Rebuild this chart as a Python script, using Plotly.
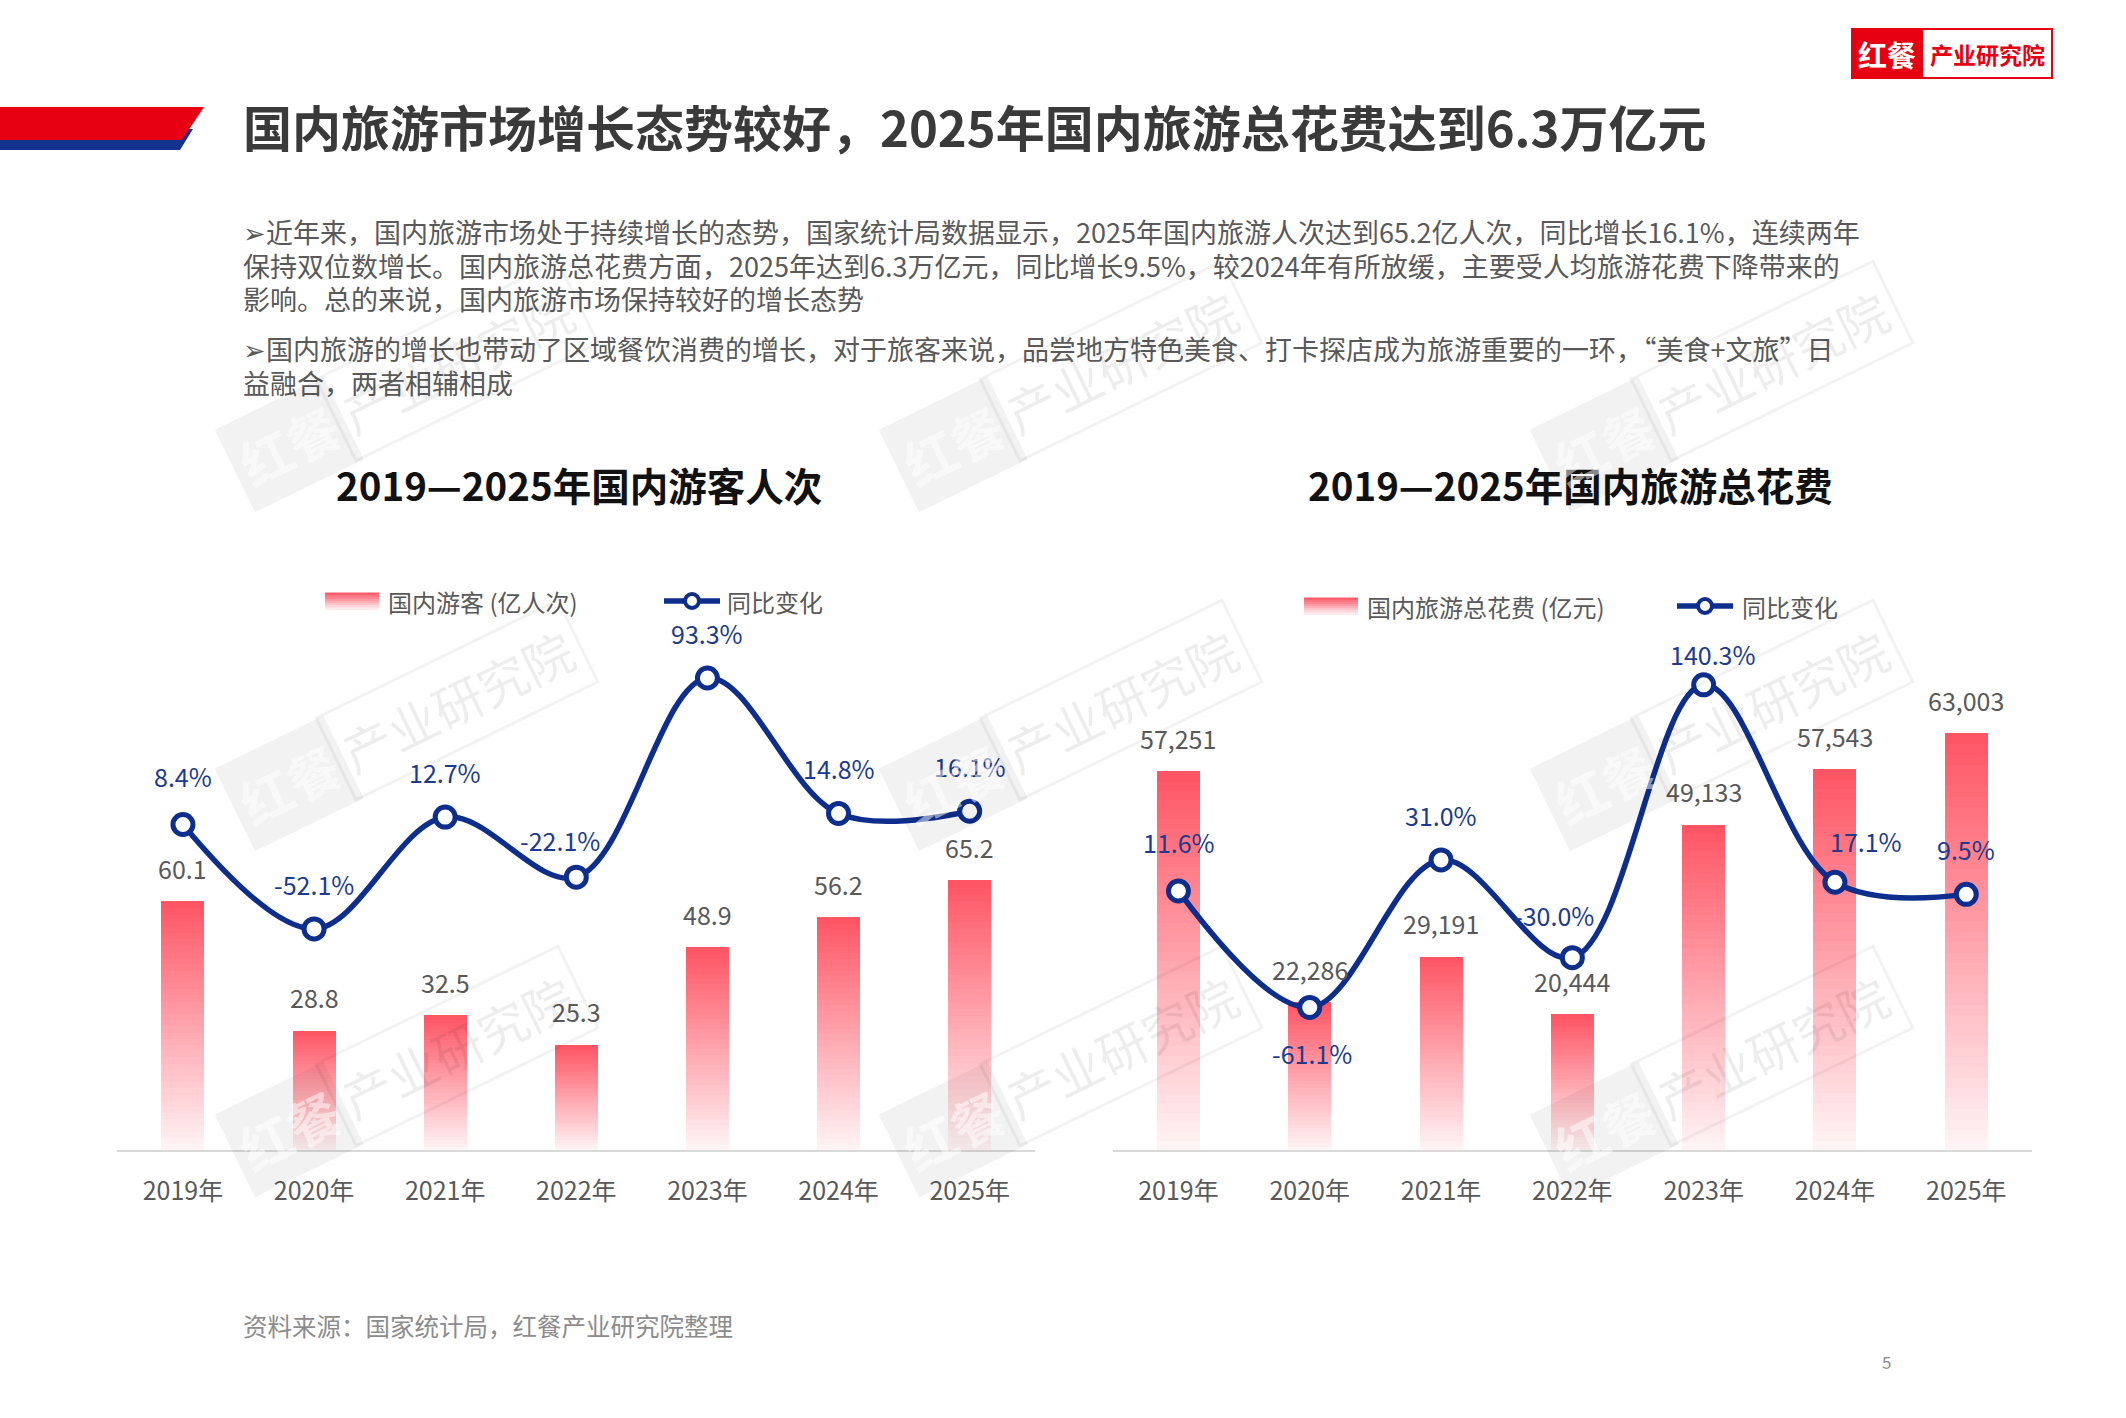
import plotly.graph_objects as go

W, H = 2126, 1418

# ---- data ----
years = ["2019年", "2020年", "2021年", "2022年", "2023年", "2024年", "2025年"]
visitors = [60.1, 28.8, 32.5, 25.3, 48.9, 56.2, 65.2]          # 亿人次
visitors_yoy = [8.4, -52.1, 12.7, -22.1, 93.3, 14.8, 16.1]      # %
spending = [57251, 22286, 29191, 20444, 49133, 57543, 63003]    # 亿元
spending_yoy = [11.6, -61.1, 31.0, -30.0, 140.3, 17.1, 9.5]     # %

title = "国内旅游市场增长态势较好，2025年国内旅游总花费达到6.3万亿元"
para_lines = [
    "➢近年来，国内旅游市场处于持续增长的态势，国家统计局数据显示，2025年国内旅游人次达到65.2亿人次，同比增长16.1%，连续两年",
    "保持双位数增长。国内旅游总花费方面，2025年达到6.3万亿元，同比增长9.5%，较2024年有所放缓，主要受人均旅游花费下降带来的",
    "影响。总的来说，国内旅游市场保持较好的增长态势",
    "➢国内旅游的增长也带动了区域餐饮消费的增长，对于旅客来说，品尝地方特色美食、打卡探店成为旅游重要的一环，“美食+文旅”日",
    "益融合，两者相辅相成",
]
para_y = [232, 265, 298, 349, 382]
source = "资料来源：国家统计局，红餐产业研究院整理"

# ---- style ----
FONT = "Noto Sans CJK SC"
NAVY = "#0d2e8c"
LABEL_NAVY = "#1c3a8e"
GREY = "#595959"
BAR_TOP = (255, 84, 99)
BAR_BOTTOM = (255, 245, 247)
STEPS = 40


def px(x):
    return x / W


def py(y):
    return 1 - y / H


def mix(t):
    c = [round(b + (a - b) * t) for a, b in zip(BAR_TOP, BAR_BOTTOM)]
    return "rgb(%d,%d,%d)" % tuple(c)


def note(x, y, text, size, color, anchor="center", **kw):
    # paper-positioned text, x/y given in page pixels
    d = dict(x=px(x), y=py(y), xref="paper", yref="paper", text=text, showarrow=False,
             xanchor=anchor, yanchor="middle", font=dict(size=size, color=color))
    d.update(kw)
    return d


fig = go.Figure()

panels = [
    dict(xa="x", ya="y", ya2="y2", bars=visitors, yoy=visitors_yoy,
         bar_fmt="{:.1f}", name="国内游客 (亿人次)",
         chart_title="2019—2025年国内游客人次", title_x=579,
         nudges={0: (0, 49), 3: (-16, 37)},
         legend=(325, 386, 664, 725, 601)),
    dict(xa="x2", ya="y3", ya2="y4", bars=spending, yoy=spending_yoy,
         bar_fmt="{:,}", name="国内旅游总花费 (亿元)",
         chart_title="2019—2025年国内旅游总花费", title_x=1570,
         nudges={0: (1, 49), 1: (2, -46), 3: (-18, 43), 4: (9, 31), 5: (31, 41)},
         legend=(1304, 1365, 1677, 1740, 606)),
]

annotations = []
shapes = []

for p in panels:
    # gradient bars: each bar stacked from thin slices, light at bottom, red at top
    for k in range(STEPS):
        c = mix((k + 0.5) / STEPS)
        fig.add_trace(go.Bar(
            x=years, y=[v / STEPS for v in p["bars"]],
            xaxis=p["xa"], yaxis=p["ya"], width=0.32,
            marker=dict(color=c, line=dict(color=c, width=1)),
            showlegend=False, hoverinfo="skip"))
    fig.add_trace(go.Scatter(
        x=years, y=p["yoy"], xaxis=p["xa"], yaxis=p["ya2"],
        mode="lines+markers", cliponaxis=False, showlegend=False,
        line=dict(color=NAVY, width=5.5, shape="spline", smoothing=1),
        marker=dict(size=20, color="white", line=dict(color=NAVY, width=5)),
        hovertemplate="%{x}: %{y}%<extra></extra>"))

    for yr, v in zip(years, p["bars"]):
        annotations.append(dict(
            x=yr, y=v, xref=p["xa"], yref=p["ya"], text=p["bar_fmt"].format(v),
            showarrow=False, yshift=34, font=dict(size=25, color=GREY)))
    for i, (yr, v) in enumerate(zip(years, p["yoy"])):
        dx, dy = p["nudges"].get(i, (0, 45))
        annotations.append(dict(
            x=yr, y=v, xref=p["xa"], yref=p["ya2"], text="%.1f%%" % v,
            showarrow=False, xshift=dx, yshift=dy,
            font=dict(size=25, color=LABEL_NAVY)))

    annotations.append(note(p["title_x"], 484, "<b>%s</b>" % p["chart_title"], 38.5, "#111111"))

    # legend drawn by hand: gradient swatch + line-with-circle
    sx, tx, lx, ltx, ly = p["legend"]
    sw_h, bands = 17, 8
    for b in range(bands):
        y0 = ly - sw_h / 2 + b * sw_h / bands
        shapes.append(dict(type="rect", xref="paper", yref="paper",
                           x0=px(sx), x1=px(sx + 54), y0=py(y0), y1=py(y0 + sw_h / bands + 0.5),
                           fillcolor=mix(1 - (b + 0.5) / bands), line=dict(width=0)))
    annotations.append(note(tx, ly, p["name"], 24, GREY, anchor="left"))
    shapes.append(dict(type="line", xref="paper", yref="paper", x0=px(lx), x1=px(lx + 56),
                       y0=py(ly), y1=py(ly), line=dict(color=NAVY, width=5.5)))
    shapes.append(dict(type="circle", xref="paper", yref="paper",
                       x0=px(lx + 28 - 7), x1=px(lx + 28 + 7), y0=py(ly - 7), y1=py(ly + 7),
                       fillcolor="white", line=dict(color=NAVY, width=4)))
    annotations.append(note(ltx, ly, "同比变化", 24, GREY, anchor="left"))

# header band
shapes.append(dict(type="path", xref="paper", yref="paper", line=dict(width=0), fillcolor="#13338f",
                   path="M %f %f L %f %f L %f %f L %f %f Z" % (
                       px(0), py(129), px(193), py(129), px(180), py(150), px(0), py(150))))
shapes.append(dict(type="path", xref="paper", yref="paper", line=dict(width=0), fillcolor="#e60012",
                   path="M %f %f L %f %f L %f %f L %f %f Z" % (
                       px(0), py(107), px(204), py(107), px(182), py(140), px(0), py(140))))
annotations.append(note(241, 126, "<b>%s</b>" % title, 49, "#3a3a3a", anchor="left"))

# logo
shapes.append(dict(type="rect", xref="paper", yref="paper", x0=px(1852), x1=px(2052),
                   y0=py(29), y1=py(78), fillcolor="white", line=dict(color="#e60012", width=2)))
shapes.append(dict(type="rect", xref="paper", yref="paper", x0=px(1852), x1=px(1923),
                   y0=py(29), y1=py(78), fillcolor="#e60012", line=dict(width=0)))
annotations.append(note(1887, 54, "<b>红餐</b>", 29, "white"))
annotations.append(note(1987, 54, "<b>产业研究院</b>", 23, "#e60012"))

# paragraph
for line, yy in zip(para_lines, para_y):
    annotations.append(note(241, yy, line, 27, GREY, anchor="left"))

annotations.append(note(241, 1325, source, 24.5, "#8c8c8c", anchor="left"))
annotations.append(note(1886, 1361, "5", 17, "#8c8c8c"))

# watermarks
for cy in (386, 725, 1071):
    for cx in (407, 1071, 1722):
        annotations.append(note(cx, cy, "<b>红餐</b>", 52, "rgba(255,255,255,0.5)",
                                textangle=-26, xshift=-118, yshift=-58,
                                bgcolor="rgba(0,0,0,0.05)", borderpad=8))
        annotations.append(note(cx, cy, "产业研究院", 50, "rgba(0,0,0,0.07)",
                                textangle=-26, xshift=50, yshift=25,
                                bordercolor="rgba(0,0,0,0.05)", borderwidth=3, borderpad=8))

axis_common = dict(type="category", showline=True, linecolor="#d9d9d9", linewidth=2,
                   showgrid=False, zeroline=False, ticks="", ticklabelstandoff=18,
                   tickfont=dict(size=25, color=GREY), fixedrange=True)
hidden = dict(visible=False, showgrid=False, zeroline=False, fixedrange=True)

fig.update_layout(
    width=W, height=H,
    margin=dict(l=0, r=0, t=0, b=0),
    paper_bgcolor="white", plot_bgcolor="rgba(0,0,0,0)",
    font=dict(family=FONT, color=GREY),
    barmode="stack",
    showlegend=False,
    xaxis=dict(axis_common, domain=[0.05522, 0.48693], anchor="y", range=[-0.5, 6.5]),
    xaxis2=dict(axis_common, domain=[0.52342, 0.95574], anchor="y3", range=[-0.5, 6.5]),
    yaxis=dict(hidden, domain=[0.18900, 0.56277], anchor="x", range=[0, 128.3]),
    yaxis2=dict(hidden, overlaying="y", anchor="x", range=[-180.2, 126.9]),
    yaxis3=dict(hidden, domain=[0.18900, 0.56277], anchor="x2", range=[0, 80182]),
    yaxis4=dict(hidden, overlaying="y3", anchor="x2", range=[-150.1, 180.8]),
    annotations=annotations,
    shapes=shapes,
)

fig.write_html("out.html", config={"displayModeBar": False},
               post_script="document.body.style.margin='0';")
